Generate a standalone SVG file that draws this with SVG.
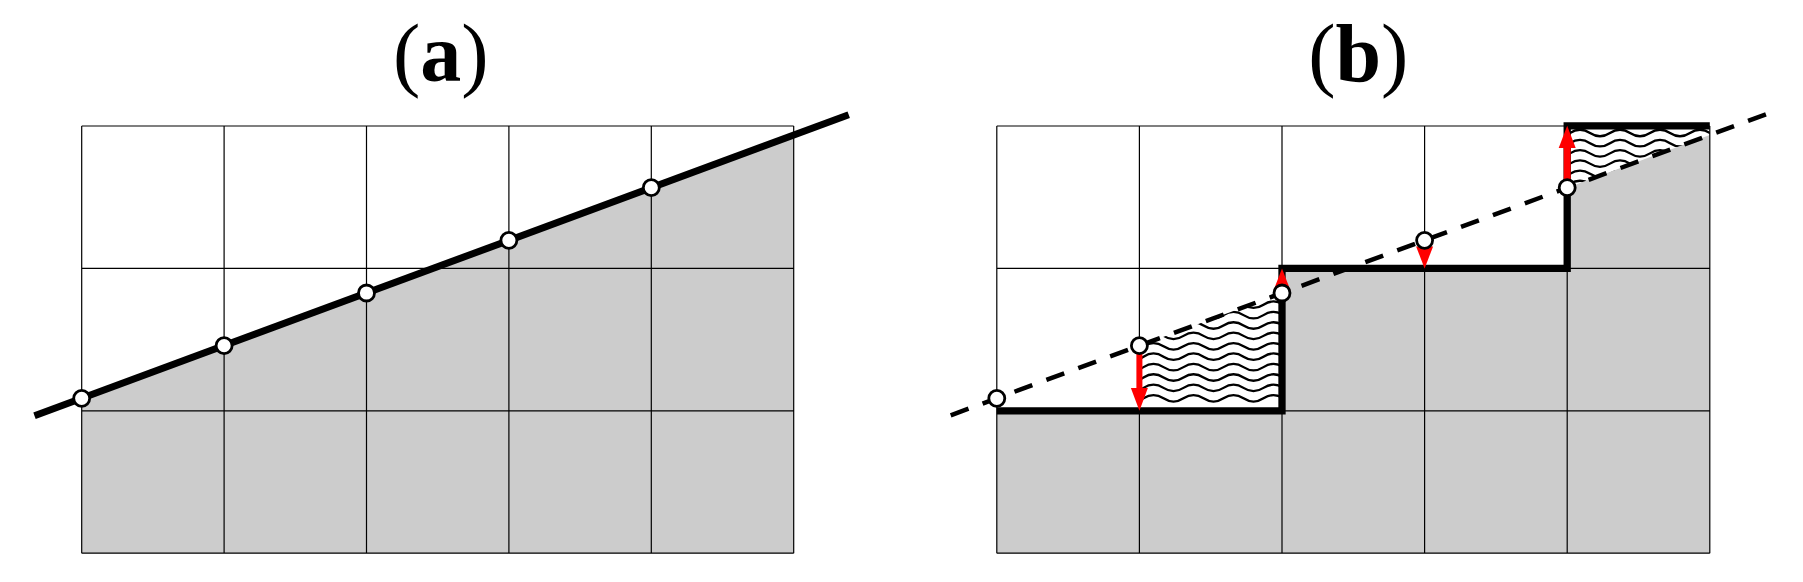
<svg xmlns="http://www.w3.org/2000/svg" width="1803" height="582" viewBox="0 0 1803 582">
<style>
.title{font-family:"Liberation Serif","Times New Roman",serif;font-size:82px;fill:#000}
.bold{font-weight:bold}
.grid{stroke:#000;stroke-width:1.2;fill:none}
.shade{fill:#cccccc;stroke:none}
.solid{stroke:#000;stroke-width:7;fill:none;stroke-linecap:butt}
.thick{stroke:#000;stroke-width:7.3;fill:none;stroke-linejoin:miter;stroke-linecap:butt}
.dash{stroke:#000;stroke-width:4.5;stroke-dasharray:19 15;fill:none}
.pt{fill:#fff;stroke:#000;stroke-width:2.8}
.wave{stroke:#000;stroke-width:2.3;fill:none}
.arrow{fill:#ff0000;stroke:none}
</style>
<defs>
<clipPath id="clipA"><path d="M1139.4,345.65 L1282,293 V410.8 H1139.4 Z"/></clipPath>
<clipPath id="clipB"><path d="M1567.2,125.8 H1709.8 V135.05 L1567.2,187.7 Z"/></clipPath>
</defs>
<rect width="1803" height="582" fill="#fff"/>

<g id="panel-a">
<text class="title" x="440.8" y="81" text-anchor="middle">(<tspan class="bold">a</tspan>)</text>
<polygon class="shade" points="81.7,398.3 793.7,135.05 793.7,553.2 81.7,553.2"/>
<path class="grid" d="M81.7,126 H793.7 M81.7,268.4 H793.7 M81.7,410.8 H793.7 M81.7,553.2 H793.7 M81.7,126 V553.2 M224.1,126 V553.2 M366.5,126 V553.2 M508.9,126 V553.2 M651.3,126 V553.2 M793.7,126 V553.2"/>
<path class="solid" d="M34.5,415.75 L848.7,114.7"/>
<g id="a-p0"><circle class="pt" cx="81.7" cy="398.3" r="8"/></g>
<g id="a-p1"><circle class="pt" cx="224.1" cy="345.65" r="8"/></g>
<g id="a-p2"><circle class="pt" cx="366.5" cy="293" r="8"/></g>
<g id="a-p3"><circle class="pt" cx="508.9" cy="240.35" r="8"/></g>
<g id="a-p4"><circle class="pt" cx="651.3" cy="187.7" r="8"/></g>
</g>

<g id="panel-b">
<text class="title" x="1358.3" y="81" text-anchor="middle">(<tspan class="bold">b</tspan>)</text>
<path class="shade" d="M996.8,410.8 H1282 V268.4 H1567.2 V187.7 L1709.8,135.05 V553.2 H996.8 Z"/>
<path class="grid" d="M996.8,126 H1709.8 M996.8,268.4 H1709.8 M996.8,410.8 H1709.8 M996.8,553.2 H1709.8 M996.8,126 V553.2 M1139.4,126 V553.2 M1282,126 V553.2 M1424.6,126 V553.2 M1567.2,126 V553.2 M1709.8,126 V553.2"/>
<g clip-path="url(#clipA)">
<path class="wave" d="M1103.5,398.3 q10,-6.5 20,0 t20,0 t20,0 t20,0 t20,0 t20,0 t20,0 t20,0 t20,0 t20,0"/>
<path class="wave" d="M1103.5,387.9 q10,-6.5 20,0 t20,0 t20,0 t20,0 t20,0 t20,0 t20,0 t20,0 t20,0 t20,0"/>
<path class="wave" d="M1103.5,377.5 q10,-6.5 20,0 t20,0 t20,0 t20,0 t20,0 t20,0 t20,0 t20,0 t20,0 t20,0"/>
<path class="wave" d="M1103.5,367.1 q10,-6.5 20,0 t20,0 t20,0 t20,0 t20,0 t20,0 t20,0 t20,0 t20,0 t20,0"/>
<path class="wave" d="M1103.5,356.7 q10,-6.5 20,0 t20,0 t20,0 t20,0 t20,0 t20,0 t20,0 t20,0 t20,0 t20,0"/>
<path class="wave" d="M1103.5,346.3 q10,-6.5 20,0 t20,0 t20,0 t20,0 t20,0 t20,0 t20,0 t20,0 t20,0 t20,0"/>
<path class="wave" d="M1103.5,335.9 q10,-6.5 20,0 t20,0 t20,0 t20,0 t20,0 t20,0 t20,0 t20,0 t20,0 t20,0"/>
<path class="wave" d="M1103.5,325.5 q10,-6.5 20,0 t20,0 t20,0 t20,0 t20,0 t20,0 t20,0 t20,0 t20,0 t20,0"/>
<path class="wave" d="M1103.5,315.1 q10,-6.5 20,0 t20,0 t20,0 t20,0 t20,0 t20,0 t20,0 t20,0 t20,0 t20,0"/>
<path class="wave" d="M1103.5,304.7 q10,-6.5 20,0 t20,0 t20,0 t20,0 t20,0 t20,0 t20,0 t20,0 t20,0 t20,0"/>
<path class="wave" d="M1103.5,294.3 q10,-6.5 20,0 t20,0 t20,0 t20,0 t20,0 t20,0 t20,0 t20,0 t20,0 t20,0"/>
</g>
<g clip-path="url(#clipB)">
<path class="wave" d="M1530,133 q10,-6.5 20,0 t20,0 t20,0 t20,0 t20,0 t20,0 t20,0 t20,0 t20,0 t20,0"/>
<path class="wave" d="M1530,143.2 q10,-6.5 20,0 t20,0 t20,0 t20,0 t20,0 t20,0 t20,0 t20,0 t20,0 t20,0"/>
<path class="wave" d="M1530,153.4 q10,-6.5 20,0 t20,0 t20,0 t20,0 t20,0 t20,0 t20,0 t20,0 t20,0 t20,0"/>
<path class="wave" d="M1530,163.6 q10,-6.5 20,0 t20,0 t20,0 t20,0 t20,0 t20,0 t20,0 t20,0 t20,0 t20,0"/>
<path class="wave" d="M1530,173.8 q10,-6.5 20,0 t20,0 t20,0 t20,0 t20,0 t20,0 t20,0 t20,0 t20,0 t20,0"/>
<path class="wave" d="M1530,184 q10,-6.5 20,0 t20,0 t20,0 t20,0 t20,0 t20,0 t20,0 t20,0 t20,0 t20,0"/>
</g>
<path class="dash" d="M950.7,415.3 L1776,110.6"/>
<path class="thick" d="M996.8,410.8 H1282 V268.4 H1567.2 V125.8 H1709.8"/>
<g id="connectors">
<g id="arrow-1"><rect class="arrow" x="1136.4" y="345.65" width="6" height="43.5"/><polygon class="arrow" points="1130.9,388 1147.9,388 1139.4,410.8"/></g>
<g id="arrow-2"><polygon class="arrow" points="1273.5,290.4 1290.5,290.4 1282,268.4"/></g>
<g id="arrow-3"><polygon class="arrow" points="1416.1,246.4 1433.1,246.4 1424.6,268.4"/></g>
<g id="arrow-4"><rect class="arrow" x="1563.7" y="147" width="7" height="40.7"/><polygon class="arrow" points="1558.7,148 1575.7,148 1567.2,125.8"/></g>
</g>
<g id="b-p0"><circle class="pt" cx="996.8" cy="398.3" r="8"/></g>
<g id="b-p1"><circle class="pt" cx="1139.4" cy="345.65" r="8"/></g>
<g id="b-p2"><circle class="pt" cx="1282" cy="293" r="8"/></g>
<g id="b-p3"><circle class="pt" cx="1424.6" cy="240.35" r="8"/></g>
<g id="b-p4"><circle class="pt" cx="1567.2" cy="187.7" r="8"/></g>
</g>
</svg>
